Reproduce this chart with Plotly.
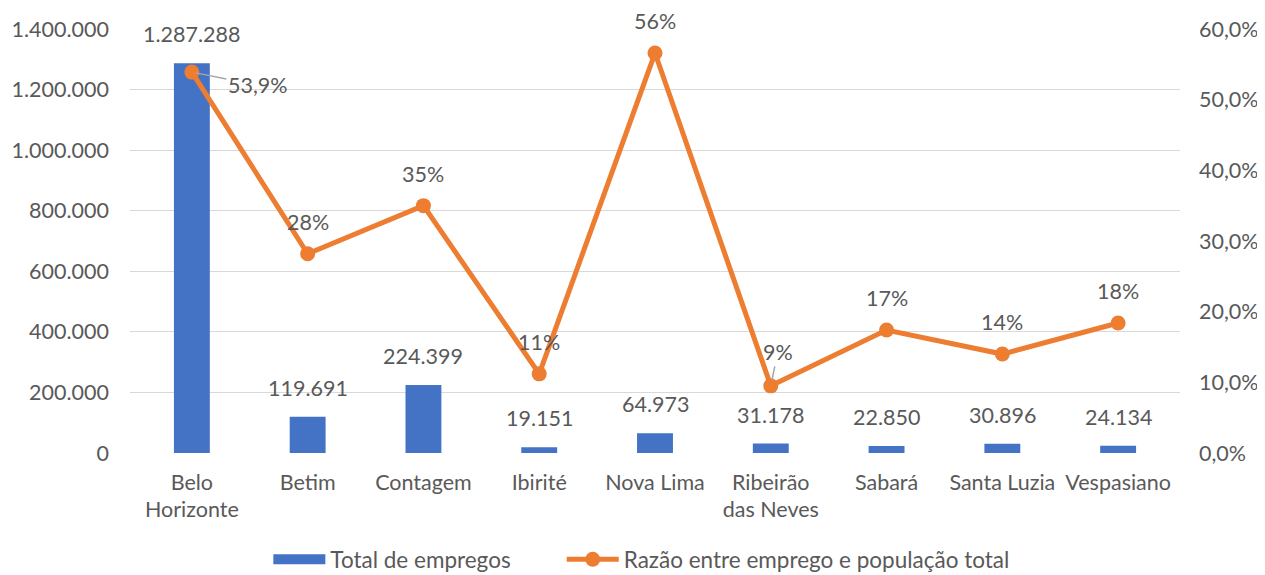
import plotly.graph_objects as go

categories = ["Belo Horizonte", "Betim", "Contagem", "Ibirité", "Nova Lima",
              "Ribeirão das Neves", "Sabará", "Santa Luzia", "Vespasiano"]
tick_labels = ["Belo<br>Horizonte", "Betim", "Contagem", "Ibirité", "Nova Lima",
               "Ribeirão<br>das Neves", "Sabará", "Santa Luzia", "Vespasiano"]
empregos = [1287288, 119691, 224399, 19151, 64973, 31178, 22850, 30896, 24134]
razao = [0.539, 0.282, 0.350, 0.112, 0.566, 0.095, 0.174, 0.140, 0.184]
razao_labels = ["53,9%", "28%", "35%", "11%", "56%", "9%", "17%", "14%", "18%"]
series_names = ["Total de empregos", "Razão entre emprego e população total"]

BLUE = "#4472C4"
ORANGE = "#ED7D31"
TXT = "#595959"
FONT = "Lato"
FS = 21.5
PAD = "\u00a0" * 8  # spacing between legend entries

fig = go.Figure()
fig.add_trace(go.Bar(
    x=categories, y=empregos, name=series_names[0],
    marker=dict(color=BLUE, line=dict(width=0)), width=0.31,
    yaxis="y", showlegend=False,
))
# legend entry for the bars drawn as a wide swatch
fig.add_trace(go.Scatter(
    x=[None], y=[None], name=series_names[0] + PAD, mode="lines",
    line=dict(color=BLUE, width=14), yaxis="y", showlegend=True,
))
fig.add_trace(go.Scatter(
    x=categories, y=razao, name=series_names[1],
    mode="lines+markers", line=dict(color=ORANGE, width=5),
    marker=dict(color=ORANGE, size=15), yaxis="y2",
))

ann = []
for c, v in zip(categories, empregos):
    ann.append(dict(x=c, y=v, xref="x", yref="y", text=f"{v:,}".replace(",", "."),
                    showarrow=False, yshift=29, font=dict(size=FS, color=TXT, family=FONT)))
for i, (c, v, t) in enumerate(zip(categories, razao, razao_labels)):
    if i == 0:
        ann.append(dict(x=c, y=v, xref="x", yref="y2", text=t, showarrow=True,
                        arrowhead=0, arrowwidth=1.5, arrowcolor="#A6A6A6", ax=66, ay=13,
                        standoff=4, font=dict(size=FS, color=TXT, family=FONT)))
    elif i == 5:
        ann.append(dict(x=c, y=v, xref="x", yref="y2", text=t, showarrow=True,
                        arrowhead=0, arrowwidth=1.5, arrowcolor="#A6A6A6", ax=7, ay=-34,
                        standoff=6, font=dict(size=FS, color=TXT, family=FONT)))
    else:
        ann.append(dict(x=c, y=v, xref="x", yref="y2", text=t, showarrow=False,
                        yshift=32, font=dict(size=FS, color=TXT, family=FONT)))

# page body has an 8px default margin, so the figure is sized to fit the window
fig.update_layout(
    width=1257, height=567,
    margin=dict(l=122, r=85, t=21, b=122, autoexpand=False),
    paper_bgcolor="white", plot_bgcolor="white",
    separators=",.",
    font=dict(family=FONT, size=FS, color=TXT),
    bargap=0.69,
    xaxis=dict(tickmode="array", tickvals=categories, ticktext=tick_labels,
               showgrid=False, showline=False, ticks="", ticklabelstandoff=14,
               automargin=False, tickfont=dict(size=FS, color=TXT)),
    yaxis=dict(range=[0, 1400000], dtick=200000, tickformat=",.0f",
               showgrid=True, gridcolor="#D9D9D9", gridwidth=1.3, zeroline=False,
               showline=False, ticks="", ticklabelstandoff=20, automargin=False,
               tickfont=dict(size=FS, color=TXT)),
    yaxis2=dict(range=[0, 0.6], dtick=0.1, tickformat=".1%", overlaying="y",
                side="right", showgrid=False, zeroline=False, showline=False,
                ticks="", ticklabelstandoff=18, automargin=False,
                tickfont=dict(size=FS, color=TXT)),
    legend=dict(orientation="h", xref="paper", x=0.487, xanchor="center",
                yref="container", y=0.027, yanchor="middle",
                font=dict(size=22.5, color=TXT), itemwidth=52, tracegroupgap=0),
    annotations=ann,
    showlegend=True,
)

fig.write_html("out.html")
